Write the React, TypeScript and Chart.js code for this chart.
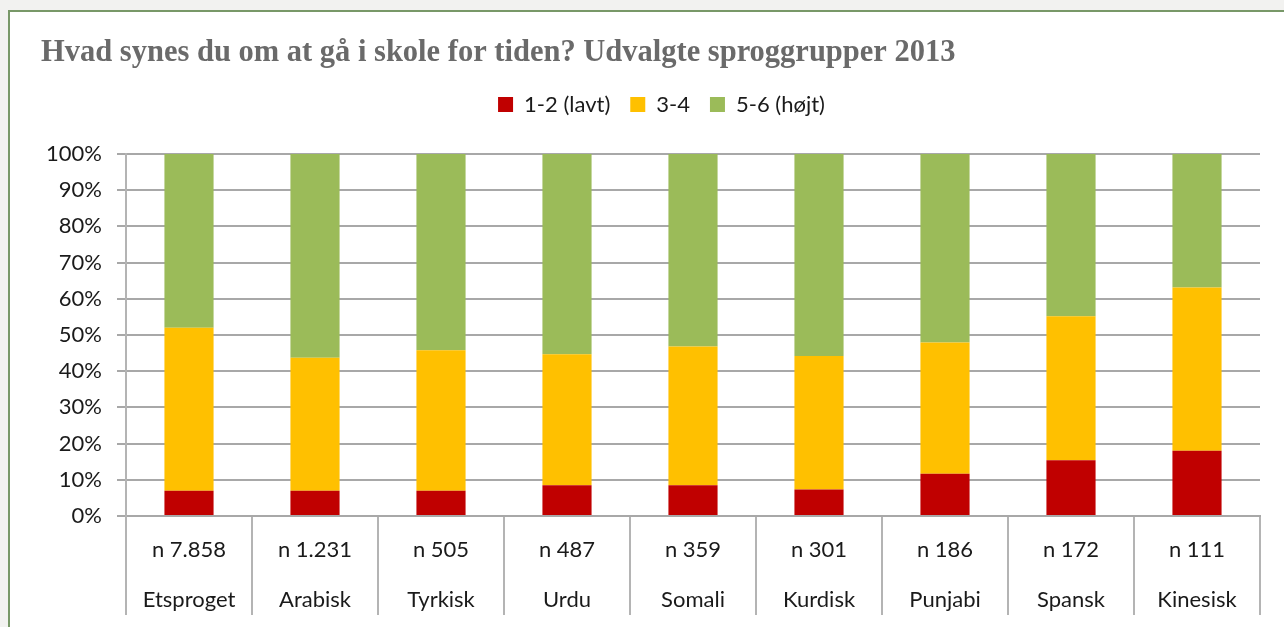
import React, { useEffect, useRef } from "react";
import { Chart, registerables } from "chart.js";

Chart.register(...registerables);

const categories = ["Etsproget", "Arabisk", "Tyrkisk", "Urdu", "Somali", "Kurdisk", "Punjabi", "Spansk", "Kinesisk"];
const sampleSizes = ["n 7.858", "n 1.231", "n 505", "n 487", "n 359", "n 301", "n 186", "n 172", "n 111"];
const low = [7.0, 7.0, 7.0, 8.5, 8.5, 7.3, 11.7, 15.4, 18.0];
const mid = [45.0, 36.7, 38.8, 36.2, 38.3, 36.9, 36.2, 39.8, 45.1];
const high = [48.0, 56.3, 54.2, 55.3, 53.2, 55.8, 52.1, 44.8, 36.9];
const seriesNames = ["1-2 (lavt)", "3-4", "5-6 (højt)"];
const titleText = "Hvad synes du om at gå i skole for tiden? Udvalgte sproggrupper 2013";

const FONT = "Lato, 'Open Sans', sans-serif";

const legendGap = {
  id: "legendGap",
  beforeInit(chart: any) {
    const legend = chart.legend;
    if (!legend) return;
    const fit = legend.fit;
    legend.fit = function () {
      fit.call(legend);
      legend.height += 28.5;
    };
  },
  afterLayout(chart: any) {
    const legend = chart.legend;
    if (!legend) return;
    legend.left += 11;
    legend.right += 11;
  },
};

export default function App() {
  const ref = useRef<HTMLCanvasElement | null>(null);

  useEffect(() => {
    if (!ref.current) return;
    const chart = new Chart(ref.current, {
      type: "bar",
      data: {
        labels: categories.map((c, i) => [sampleSizes[i], c]),
        datasets: [
          { label: seriesNames[0], data: low, backgroundColor: "#c00000" },
          { label: seriesNames[1], data: mid, backgroundColor: "#ffc000" },
          { label: seriesNames[2], data: high, backgroundColor: "#9bbb59" },
        ],
      },
      options: {
        responsive: false,
        animation: false,
        devicePixelRatio: 1,
        layout: { padding: { left: 41, right: 24, top: 0, bottom: 0 } },
        datasets: { bar: { barPercentage: 0.39, categoryPercentage: 1 } },
        plugins: {
          tooltip: { enabled: false },
          title: {
            display: true,
            text: titleText,
            align: "start",
            color: "#6a6a6a",
            font: { family: "'Liberation Serif', serif", size: 30.5, weight: "bold", lineHeight: 1 },
            padding: { top: 38, bottom: 5 },
          },
          legend: {
            position: "top",
            labels: {
              boxWidth: 15,
              boxHeight: 15,
              padding: 20,
              color: "#1a1a1a",
              font: { family: FONT, size: 22 },
            },
          },
        },
        scales: {
          x: {
            stacked: true,
            offset: true,
            afterFit: (s: any) => {
              s.height = 111;
            },
            grid: {
              offset: true,
              drawOnChartArea: false,
              tickLength: 99,
              lineWidth: 2,
              color: (ctx: any) => (ctx.index === categories.length ? "rgba(0,0,0,0)" : "#b4b4b4"),
            },
            border: { display: true, color: "#a8a8a8", width: 2 },
            ticks: {
              padding: -90,
              color: "#1a1a1a",
              font: { family: FONT, size: 22, lineHeight: 2.27 },
              maxRotation: 0,
              autoSkip: false,
            },
          },
          y: {
            stacked: true,
            min: 0,
            max: 100,
            afterFit: (s: any) => {
              s.width = 85;
            },
            grid: { color: "#a8a8a8", lineWidth: 2, tickLength: 9 },
            border: { display: true, color: "#b4b4b4", width: 2 },
            ticks: {
              stepSize: 10,
              padding: 15,
              color: "#1a1a1a",
              font: { family: FONT, size: 22 },
              callback: (v: any) => v + "%",
            },
          },
        },
      },
      plugins: [legendGap],
    });
    return () => chart.destroy();
  }, []);

  return (
    <div style={{ position: "fixed", left: 0, top: 0, width: 1284, height: 627, background: "#f2f2f0", overflow: "hidden" }}>
      <div
        style={{
          position: "absolute",
          left: 8,
          top: 10,
          width: 1320,
          height: 660,
          border: "2px solid #789868",
          background: "#ffffff",
        }}
      />
      <canvas ref={ref} width={1284} height={627} style={{ position: "absolute", left: 0, top: 0, width: 1284, height: 627 }} />
    </div>
  );
}
